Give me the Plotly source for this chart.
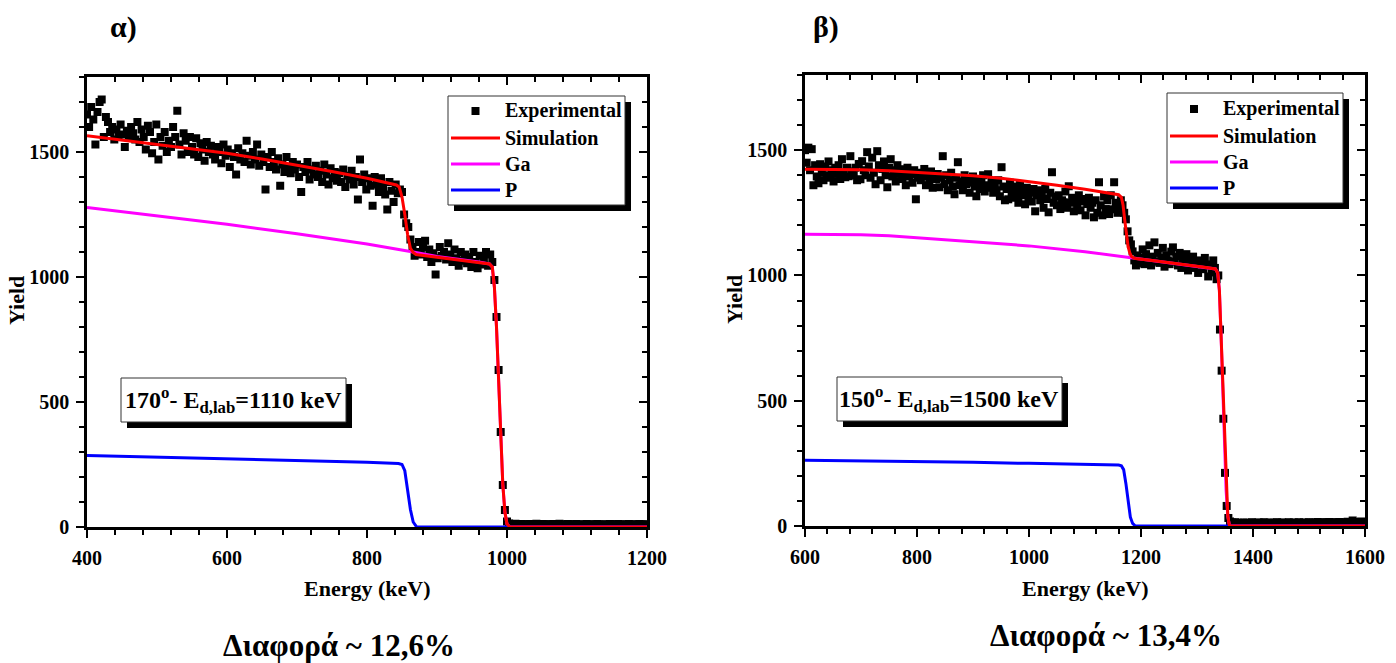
import plotly.graph_objects as go

# ---------------- data: panel α (170°, Ed,lab = 1110 keV) ----------------
energy_a = list(range(400, 1199, 3))
exp_a = [
    1650, 1600, 1680, 1630, 1530, 1660, 1700, 1710, 1560, 1640,
    1620, 1580, 1600, 1550, 1590, 1560, 1610, 1570, 1520, 1585,
    1560, 1600, 1575, 1550, 1620, 1540, 1590, 1560, 1510, 1605,
    1580, 1495, 1540, 1610, 1470, 1560, 1525, 1580, 1500, 1545,
    1520, 1600, 1560, 1665, 1530, 1490, 1575, 1545, 1500, 1560,
    1520, 1490, 1555, 1480, 1535, 1510, 1465, 1540, 1500, 1525,
    1490, 1470, 1520, 1500, 1455, 1530, 1485, 1510, 1440, 1495,
    1480, 1410, 1515, 1470, 1495, 1460, 1545, 1485, 1450, 1500,
    1470, 1530, 1445, 1490, 1460, 1350, 1480, 1440, 1500, 1460,
    1430, 1475, 1365, 1450, 1420, 1480, 1440, 1415, 1460, 1430,
    1450, 1400, 1340, 1440, 1420, 1460, 1390, 1430, 1410, 1445,
    1400, 1425, 1380, 1450, 1410, 1370, 1435, 1395, 1420, 1385,
    1415, 1380, 1430, 1360, 1405, 1390, 1425, 1370, 1400, 1310,
    1470, 1380, 1410, 1350, 1395, 1365, 1285, 1400, 1370, 1340,
    1395, 1360, 1330, 1270, 1380, 1345, 1300, 1370, 1335, 1350,
    1340, 1250, 1215, 1200, 1150, 1120, 1085, 1100, 1140, 1090,
    1120, 1145, 1080, 1110, 1060, 1095, 1010, 1075, 1120, 1085,
    1100, 1070, 1135, 1090, 1060, 1110, 1075, 1045, 1100, 1065,
    1090, 1055, 1080, 1040, 1100, 1060, 1035, 1085, 1050, 1075,
    1100, 1045, 1090, 1060, 988, 840, 628, 380, 168, 68,
    22, 14, 12, 10, 13, 11, 9, 12, 10, 11,
    10, 12, 9, 11, 13, 10, 8, 12, 11, 9,
    11, 10, 12, 9, 10, 13, 11, 8, 10, 12,
    9, 11, 10, 12, 8, 10, 11, 9, 12, 10,
    10, 9, 11, 12, 10, 8, 11, 10, 9, 12,
    11, 10, 9, 12, 10, 11, 8, 10, 12, 9,
    10, 11, 9, 12, 10, 11, 10,
]
sim_a_E = [400, 450, 500, 550, 600, 650, 700, 750, 800, 830, 842, 846, 850, 854,
           858, 862, 866, 870, 900, 930, 960, 975, 979, 982, 985, 988, 991, 994,
           997, 1000, 1004, 1050, 1100, 1150, 1200]
sim_a = [1565, 1548, 1530, 1513, 1495, 1472, 1448, 1422, 1395, 1377, 1368, 1360, 1320, 1250,
         1170, 1115, 1098, 1090, 1080, 1069, 1058, 1052, 1040, 960, 800, 600, 370, 170,
         60, 12, 0, 0, 0, 0, 0]
ga_a_E = [400, 500, 600, 700, 800, 866, 900, 960, 975, 979, 982, 985, 988, 991,
          994, 997, 1000, 1004, 1200]
ga_a = [1278, 1246, 1211, 1173, 1132, 1100, 1082, 1060, 1052, 1040, 960, 800, 600, 370,
        170, 60, 12, 0, 0]
p_a_E = [400, 500, 600, 700, 800, 845, 850, 854, 858, 862, 866, 871, 1200]
p_a = [286, 280, 274, 267, 259, 254, 250, 225, 150, 70, 20, 0, 0]

# ---------------- data: panel β (150°, Ed,lab = 1500 keV) ----------------
energy_b = list(range(600, 1600, 3))
exp_b = [
    1500, 1450, 1510, 1420, 1504, 1360, 1440, 1395, 1368, 1444,
    1410, 1380, 1435, 1400, 1455, 1390, 1420, 1375, 1430, 1405,
    1440, 1385, 1464, 1410, 1392, 1430, 1396, 1476, 1415, 1400,
    1430, 1380, 1445, 1384, 1456, 1420, 1400, 1492, 1435, 1390,
    1470, 1410, 1364, 1496, 1440, 1380, 1425, 1455, 1400, 1352,
    1430, 1464, 1395, 1420, 1375, 1440, 1405, 1424, 1385, 1410,
    1360, 1430, 1395, 1404, 1370, 1420, 1304, 1390, 1410, 1380,
    1396, 1425, 1360, 1400, 1375, 1415, 1350, 1396, 1385, 1405,
    1352, 1390, 1476, 1365, 1400, 1340, 1380, 1410, 1355, 1324,
    1390, 1452, 1360, 1375, 1340, 1400, 1364, 1385, 1330, 1370,
    1395, 1355, 1316, 1380, 1345, 1370, 1400, 1335, 1360, 1404,
    1350, 1375, 1330, 1365, 1340, 1380, 1316, 1432, 1355, 1300,
    1345, 1304, 1370, 1330, 1355, 1310, 1340, 1290, 1365, 1320,
    1335, 1284, 1350, 1310, 1330, 1295, 1345, 1256, 1320, 1340,
    1300, 1325, 1270, 1345, 1305, 1252, 1330, 1412, 1290, 1315,
    1280, 1320, 1265, 1300, 1292, 1335, 1270, 1356, 1290, 1310,
    1256, 1300, 1275, 1320, 1260, 1295, 1305, 1240, 1285, 1310,
    1270, 1290, 1232, 1300, 1250, 1372, 1280, 1240, 1315, 1265,
    1300, 1245, 1320, 1264, 1372, 1290, 1250, 1264, 1300, 1280,
    1250, 1224, 1176, 1140, 1124, 1096, 1060, 1040, 1080, 1050,
    1070, 1104, 1045, 1085, 1060, 1120, 1040, 1075, 1132, 1055,
    1090, 1050, 1070, 1110, 1035, 1080, 1060, 1045, 1095, 1112,
    1055, 1075, 1040, 1090, 1030, 1065, 1050, 1085, 1020, 1060,
    1040, 1075, 1030, 1055, 1010, 1060, 1045, 1025, 1070, 1044,
    996, 1040, 1012, 1060, 1030, 985, 1000, 784, 620, 428,
    212, 80, 32, 18, 14, 12, 15, 11, 13, 10,
    12, 14, 11, 13, 10, 12, 15, 11, 13, 12,
    14, 11, 12, 15, 13, 10, 12, 14, 11, 13,
    12, 15, 13, 11, 14, 12, 10, 13, 15, 12,
    11, 14, 12, 13, 15, 11, 12, 14, 13, 12,
    15, 12, 14, 11, 13, 16, 12, 14, 13, 15,
    12, 14, 16, 13, 12, 15, 14, 13, 16, 12,
    14, 15, 13, 17, 14, 16, 22, 15, 14, 16,
    15, 18, 14, 16,
]
sim_b_E = [600, 650, 700, 750, 800, 850, 900, 950, 1000, 1050, 1100, 1150, 1160, 1165,
           1168, 1171, 1174, 1177, 1180, 1183, 1187, 1190, 1220, 1250, 1280, 1310, 1333,
           1337, 1340, 1343, 1346, 1349, 1352, 1355, 1358, 1400, 1500, 1600]
sim_b = [1424, 1424, 1422, 1418, 1412, 1405, 1398, 1388, 1375, 1360, 1344, 1328, 1322, 1312,
         1280, 1220, 1160, 1115, 1090, 1076, 1070, 1068, 1060, 1052, 1043, 1034, 1026,
         1010, 940, 760, 540, 320, 140, 40, 0, 0, 0, 0]
ga_b_E = [600, 700, 750, 800, 900, 1000, 1100, 1187, 1220, 1250, 1280, 1310, 1333, 1337,
          1340, 1343, 1346, 1349, 1352, 1355, 1358, 1600]
ga_b = [1164, 1162, 1158, 1150, 1135, 1118, 1095, 1070, 1060, 1052, 1043, 1034, 1026, 1010,
        940, 760, 540, 320, 140, 40, 0, 0]
p_b_E = [600, 700, 800, 900, 1000, 1100, 1160, 1165, 1169, 1173, 1177, 1181, 1185, 1190, 1600]
p_b = [262, 260, 257, 254, 250, 246, 243, 240, 225, 170, 90, 35, 10, 0, 0]

legend_names = ["Experimental", "Simulation", "Ga", "P"]
series_colors = ["black", "#FF0000", "#FF00FF", "#0000FF"]
x_ticks_a = [400, 600, 800, 1000, 1200]
x_ticks_b = [600, 800, 1000, 1200, 1400, 1600]
y_ticks = [0, 500, 1000, 1500]

W, H = 1396, 663
FONT = "Liberation Serif"


def px(x):
    return x / W


def py(y):
    return 1 - y / H


fig = go.Figure()

panels = [
    dict(E=energy_a, exp=exp_a, simE=sim_a_E, sim=sim_a, gaE=ga_a_E, ga=ga_a, pE=p_a_E, p=p_a,
         xa="x", ya="y"),
    dict(E=energy_b, exp=exp_b, simE=sim_b_E, sim=sim_b, gaE=ga_b_E, ga=ga_b, pE=p_b_E, p=p_b,
         xa="x2", ya="y2"),
]
for pn in panels:
    fig.add_trace(go.Scatter(x=pn["E"], y=pn["exp"], mode="markers", name=legend_names[0],
                             marker=dict(symbol="square", size=8, color=series_colors[0]),
                             xaxis=pn["xa"], yaxis=pn["ya"]))
    fig.add_trace(go.Scatter(x=pn["gaE"], y=pn["ga"], mode="lines", name=legend_names[2],
                             line=dict(color=series_colors[2], width=3), cliponaxis=False,
                             xaxis=pn["xa"], yaxis=pn["ya"]))
    fig.add_trace(go.Scatter(x=pn["pE"], y=pn["p"], mode="lines", name=legend_names[3],
                             line=dict(color=series_colors[3], width=3), cliponaxis=False,
                             xaxis=pn["xa"], yaxis=pn["ya"]))
    fig.add_trace(go.Scatter(x=pn["simE"], y=pn["sim"], mode="lines", name=legend_names[1],
                             line=dict(color=series_colors[1], width=3), cliponaxis=False,
                             xaxis=pn["xa"], yaxis=pn["ya"]))

# empty traces to create the mirrored (inside-tick) axes
for xa, ya in [("x3", "y"), ("x", "y3"), ("x4", "y2"), ("x2", "y4")]:
    fig.add_trace(go.Scatter(x=[], y=[], xaxis=xa, yaxis=ya, hoverinfo="skip"))

tickfont = dict(family=FONT, size=20, color="black", weight="bold")
dom_a_x = [px(87), px(647)]
dom_a_y = [py(527), py(77)]
dom_b_x = [px(805), px(1365)]
dom_b_y = [py(526), py(75)]

common = dict(showgrid=False, zeroline=False, linecolor="black", linewidth=2.5, automargin=False,
              tickcolor="black", tickwidth=2, ticklen=8, tickfont=tickfont, layer="below traces")


def xaxis(rng, dom, anchor, ticks):
    return dict(range=rng, domain=dom, anchor=anchor, tickmode="array", tickvals=ticks,
                ticks="outside", showline=True, mirror=True, ticklabelstandoff=3,
                minor=dict(dtick=40, tick0=rng[0], ticks="outside", ticklen=5, tickwidth=2,
                           tickcolor="black"),
                **common)


def yaxis(dom, anchor):
    return dict(range=[0, 1800], domain=dom, anchor=anchor, tickmode="array", tickvals=y_ticks,
                ticks="outside", showline=True, mirror=True, ticklabelstandoff=3,
                minor=dict(dtick=100, tick0=0, ticks="outside", ticklen=5, tickwidth=2,
                           tickcolor="black"),
                **common)


def top_axis(rng, dom, over, anchor, ticks):
    return dict(range=rng, domain=dom, overlaying=over, anchor=anchor, side="top",
                tickmode="array", tickvals=ticks, ticks="inside", ticklen=8, tickwidth=2,
                tickcolor="black", showticklabels=False, showline=False, showgrid=False,
                zeroline=False, automargin=False,
                minor=dict(dtick=40, tick0=rng[0], ticks="inside", ticklen=5, tickwidth=2,
                           tickcolor="black"))


def right_axis(dom, over, anchor):
    return dict(range=[0, 1800], domain=dom, overlaying=over, anchor=anchor, side="right",
                tickmode="array", tickvals=y_ticks, ticks="inside", ticklen=8, tickwidth=2,
                tickcolor="black", showticklabels=False, showline=False, showgrid=False,
                zeroline=False, automargin=False,
                minor=dict(dtick=100, tick0=0, ticks="inside", ticklen=5, tickwidth=2,
                           tickcolor="black"))


fig.update_layout(
    xaxis=xaxis([400, 1200], dom_a_x, "y", x_ticks_a),
    yaxis=yaxis(dom_a_y, "x"),
    xaxis2=xaxis([600, 1600], dom_b_x, "y2", x_ticks_b),
    yaxis2=yaxis(dom_b_y, "x2"),
    xaxis3=top_axis([400, 1200], dom_a_x, "x", "y", x_ticks_a),
    yaxis3=right_axis(dom_a_y, "y", "x"),
    xaxis4=top_axis([600, 1600], dom_b_x, "x2", "y2", x_ticks_b),
    yaxis4=right_axis(dom_b_y, "y2", "x2"),
)

bold = dict(family=FONT, color="black", weight="bold")
shapes = []
annotations = []


def shadow_box(x0, y0, x1, y1, off=6):
    shapes.append(dict(type="rect", xref="paper", yref="paper",
                       x0=px(x0 + off), x1=px(x1 + off), y0=py(y1 + off), y1=py(y0 + off),
                       fillcolor="black", line=dict(width=0), layer="above"))
    shapes.append(dict(type="rect", xref="paper", yref="paper",
                       x0=px(x0), x1=px(x1), y0=py(y1), y1=py(y0),
                       fillcolor="white", line=dict(width=1, color="#333333"), layer="above"))


# legend boxes (drawn manually: box with drop shadow, samples and labels)
legend_boxes = [
    dict(box=(448, 96, 625, 205), rows=[111, 138, 164, 190], sx=(451, 500), tx=503),
    dict(box=(1167, 93, 1343, 203), rows=[109, 136, 162, 188], sx=(1170, 1218), tx=1221),
]
for lb in legend_boxes:
    shadow_box(*lb["box"], off=6)
    for i, (name, col) in enumerate(zip(legend_names, series_colors)):
        yc = lb["rows"][i]
        if i == 0:
            xc = (lb["sx"][0] + lb["sx"][1]) / 2
            shapes.append(dict(type="rect", xref="paper", yref="paper",
                               x0=px(xc - 4), x1=px(xc + 4), y0=py(yc + 4), y1=py(yc - 4),
                               fillcolor=col, line=dict(width=0), layer="above"))
        else:
            shapes.append(dict(type="line", xref="paper", yref="paper",
                               x0=px(lb["sx"][0]), x1=px(lb["sx"][1]), y0=py(yc), y1=py(yc),
                               line=dict(color=col, width=3), layer="above"))
        annotations.append(dict(text=name, x=px(lb["tx"]), y=py(yc), xanchor="left",
                                font=dict(size=20, **bold)))

# condition label boxes
shadow_box(121, 378, 346, 422, off=6)
shadow_box(837, 377, 1062, 421, off=6)

annotations += [
    dict(text="α)", x=px(123), y=py(27), font=dict(size=30, **bold)),
    dict(text="β)", x=px(826), y=py(27), font=dict(size=30, **bold)),
    dict(text="Energy (keV)", x=px(367), y=py(588), font=dict(size=22, **bold)),
    dict(text="Energy (keV)", x=px(1085), y=py(588), font=dict(size=22, **bold)),
    dict(text="Yield", x=px(17), y=py(301), textangle=-90, font=dict(size=22, **bold)),
    dict(text="Yield", x=px(735), y=py(300), textangle=-90, font=dict(size=22, **bold)),
    dict(text="Διαφορά ~ 12,6%", x=px(339), y=py(645), font=dict(size=31, **bold)),
    dict(text="Διαφορά ~ 13,4%", x=px(1106), y=py(635), font=dict(size=31, **bold)),
    dict(text="170<sup>o</sup>- E<sub>d,lab</sub>=1110 keV", x=px(233.5), y=py(400),
         font=dict(size=24, **bold)),
    dict(text="150<sup>o</sup>- E<sub>d,lab</sub>=1500 keV", x=px(949.5), y=py(399),
         font=dict(size=24, **bold)),
]
for a in annotations:
    a.setdefault("xref", "paper")
    a.setdefault("yref", "paper")
    a.setdefault("showarrow", False)
    a.setdefault("xanchor", "center")
    a.setdefault("yanchor", "middle")

fig.update_layout(shapes=shapes, annotations=annotations)
fig.update_layout(width=W, height=H, margin=dict(l=0, r=0, t=0, b=0, pad=0, autoexpand=False),
                  paper_bgcolor="white", plot_bgcolor="white", showlegend=False)

fig.write_html("out.html")
